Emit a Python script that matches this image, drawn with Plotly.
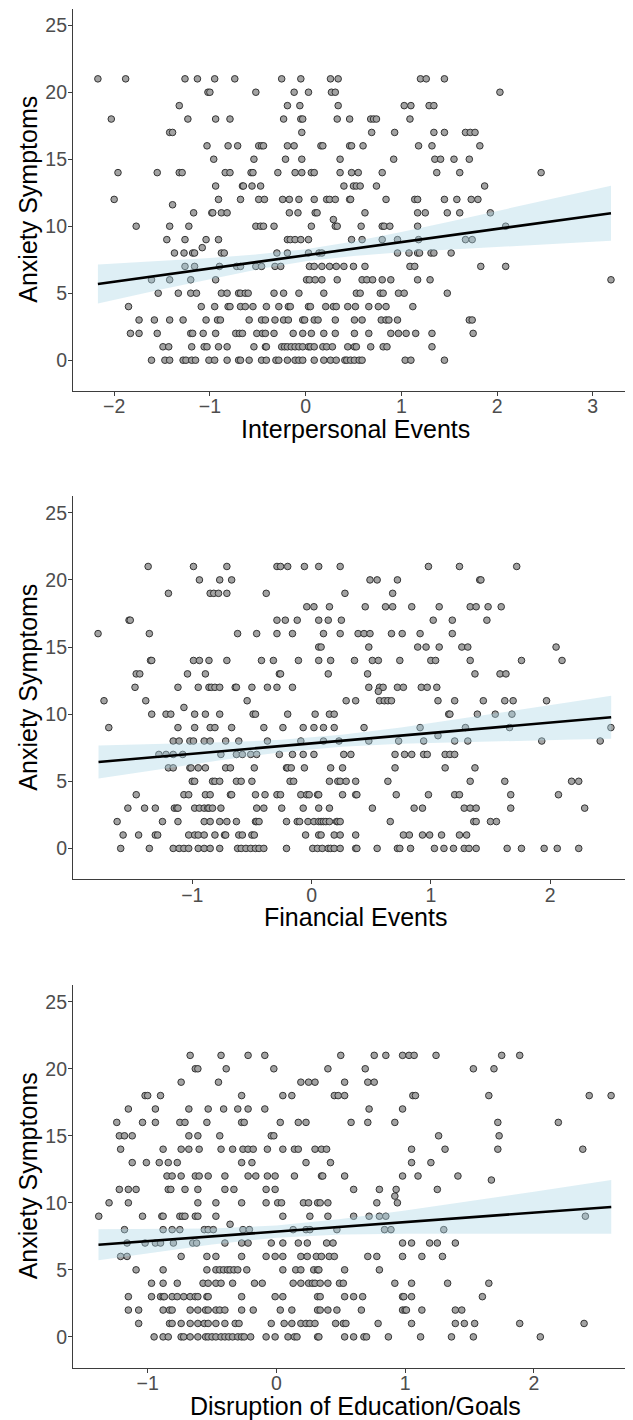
import numpy as np
import plotly.graph_objects as go

# ---------------- data ----------------
# Panel 1: Interpersonal Events -- anxiety levels and x positions of points in each level
interp_levels = [21, 20, 19, 18, 17, 16, 15, 14, 13, 12, 11.6, 11, 10.5, 10, 9, 8.4, 8, 7, 6, 5, 4, 3, 2, 1, 0]
interp_x = [
    [-2.17, -1.88, -1.26, -1.13, -0.95, -0.74, -0.25, -0.05, 0.26, 0.34, 1.20, 1.26, 1.45],
    [-1.02, -1.00, -0.52, -0.12, 0.03, 0.27, 0.31, 2.03],
    [-1.32, -0.19, -0.06, 0.34, 1.03, 1.10, 1.29, 1.34],
    [-2.03, -1.23, -0.94, -0.79, -0.23, -0.05, -0.03, 0.33, 0.46, 0.68, 0.71, 0.74, 1.09],
    [-1.42, -1.39, -0.04, 0.69, 0.93, 1.34, 1.45, 1.67, 1.72, 1.77],
    [-1.03, -0.81, -0.71, -0.49, -0.46, -0.44, -0.19, -0.12, 0.16, 0.18, 0.46, 0.48, 0.60, 1.18, 1.32, 1.82],
    [-0.96, -0.54, -0.21, -0.04, 0.36, 0.92, 1.35, 1.41, 1.55, 1.71],
    [-1.96, -1.55, -1.32, -1.29, -0.84, -0.79, -0.57, -0.55, -0.29, -0.11, -0.04, 0.06, 0.09, 0.36, 0.48, 0.55, 0.80, 1.37, 1.61, 2.46],
    [-0.94, -0.66, -0.65, -0.56, -0.47, 0.40, 0.50, 0.53, 0.57, 0.74, 1.87],
    [-2.00, -0.91, -0.68, -0.49, -0.43, -0.24, -0.17, -0.07, 0.09, 0.22, 0.25, 0.31, 0.46, 0.47, 0.84, 1.14, 1.17, 1.45, 1.58, 1.73, 1.80],
    [-1.39],
    [-1.17, -0.98, -0.97, -0.88, -0.82, -0.17, -0.08, 0.10, 0.12, 0.62, 1.17, 1.25, 1.48, 1.61, 1.93],
    [0.29],
    [-1.77, -1.42, -1.22, -0.52, -0.47, -0.44, -0.33, 0.06, 0.31, 0.33, 0.58, 0.80, 0.82, 0.88, 1.17, 2.09],
    [-1.45, -1.26, -1.04, -0.91, -0.19, -0.16, -0.11, -0.05, 0.03, 0.48, 0.59, 0.80, 0.96, 1.18, 1.67, 1.74],
    [-1.08],
    [-1.37, -1.27, -1.18, -1.16, -0.88, -0.85, -0.30, -0.19, 0.03, 0.14, 0.17, 0.96, 1.08, 1.17, 1.19, 1.31, 1.34, 1.52],
    [-1.26, -1.16, -0.90, -0.72, -0.68, -0.52, -0.46, -0.32, -0.26, 0.04, 0.09, 0.17, 0.25, 0.32, 0.40, 0.50, 0.62, 1.09, 1.14, 1.83, 2.09],
    [-1.61, -1.42, -1.20, -0.94, 0.01, 0.04, 0.10, 0.17, 0.33, 0.59, 0.64, 0.70, 0.80, 0.89, 1.17, 1.30, 3.19],
    [-1.54, -1.33, -1.20, -1.14, -0.88, -0.82, -0.70, -0.68, -0.63, -0.60, -0.33, -0.23, -0.07, 0.19, 0.53, 0.57, 0.78, 0.81, 0.97, 1.03, 1.48],
    [-1.85, -1.09, -0.95, -0.81, -0.79, -0.68, -0.63, -0.55, -0.41, -0.28, -0.18, -0.16, 0.03, 0.05, 0.21, 0.29, 0.32, 0.44, 0.52, 0.66, 0.76, 0.84, 1.12],
    [-1.74, -1.58, -1.42, -1.28, -1.04, -0.92, -0.89, -0.59, -0.46, -0.42, -0.32, -0.23, -0.18, -0.03, -0.01, 0.09, 0.13, 0.31, 0.51, 0.59, 0.79, 0.84, 0.87, 0.96, 1.71, 1.74],
    [-1.83, -1.74, -1.55, -1.20, -1.18, -1.07, -0.94, -0.73, -0.69, -0.66, -0.51, -0.45, -0.42, -0.33, -0.13, -0.03, 0.06, 0.19, 0.31, 0.51, 0.66, 0.89, 0.97, 1.05, 1.15, 1.32, 1.75],
    [-1.49, -1.43, -1.19, -1.06, -1.03, -0.91, -0.82, -0.54, -0.42, -0.41, -0.25, -0.22, -0.19, -0.15, -0.11, -0.07, -0.03, 0.03, 0.05, 0.09, 0.18, 0.22, 0.28, 0.44, 0.51, 0.53, 0.68, 0.81, 0.85, 1.32],
    [-1.61, -1.47, -1.42, -1.28, -1.25, -1.19, -1.15, -1.01, -0.95, -0.82, -0.70, -0.68, -0.59, -0.46, -0.41, -0.31, -0.28, -0.19, -0.11, -0.07, -0.03, 0.09, 0.19, 0.26, 0.32, 0.41, 0.43, 0.47, 0.51, 0.56, 0.59, 1.04, 1.10, 1.45],
]
# fitted line (ends) and 95% band
interp_fit_x = [-2.17, 3.19]
interp_fit_y = [5.69, 10.97]
interp_band_x = [-2.17, -1.5, -1.0, -0.5, 0.0, 0.5, 1.0, 1.5, 2.0, 2.5, 3.19]
interp_band_lo = [4.23, 5.29, 6.05, 6.78, 7.38, 7.78, 8.05, 8.27, 8.47, 8.66, 8.92]
interp_band_hi = [7.15, 7.42, 7.63, 7.90, 8.28, 8.86, 9.57, 10.34, 11.12, 11.92, 13.02]

# Panel 2: Financial Events
fin_levels = [21, 20, 19, 18, 17, 16, 15, 14, 13, 12, 11.7, 11, 10.5, 10, 9, 8.4, 8, 7, 6, 5, 4, 3, 2, 1, 0]
fin_x = [
    [-1.37, -0.99, -0.71, -0.29, -0.26, -0.20, -0.06, 0.06, 0.24, 0.98, 1.24, 1.72],
    [-0.94, -0.77, -0.67, 0.49, 0.55, 0.72, 1.41, 1.42],
    [-1.20, -0.85, -0.82, -0.78, -0.71, -0.38, 0.28, 0.68],
    [-0.04, 0.02, 0.15, 0.45, 0.62, 0.68, 0.84, 1.07, 1.33, 1.38, 1.48, 1.59],
    [-1.53, -1.52, -0.29, -0.22, -0.12, 0.06, 0.14, 0.25, 1.02, 1.18, 1.47],
    [-1.79, -1.36, -0.62, -0.46, -0.29, -0.16, 0.10, 0.24, 0.39, 0.44, 0.49, 0.67, 0.76, 0.91, 1.18],
    [0.06, 0.08, 0.48, 0.89, 0.96, 1.07, 1.26, 1.31, 2.05],
    [-1.35, -1.34, -0.99, -0.94, -0.86, -0.71, -0.42, -0.32, -0.11, 0.06, 0.16, 0.36, 0.51, 0.56, 0.74, 1.00, 1.04, 1.33, 1.76, 2.10],
    [-1.47, -1.44, -1.04, -0.89, -0.27, -0.26, 0.14, 0.47, 1.37, 1.58, 1.63],
    [-1.48, -1.12, -0.95, -0.86, -0.84, -0.81, -0.77, -0.64, -0.63, -0.50, -0.37, -0.29, -0.16, 0.48, 0.57, 0.60, 0.72, 0.77, 0.92, 0.97, 1.05],
    [0.56],
    [-1.74, -1.39, -0.54, 0.29, 0.37, 0.57, 0.61, 0.64, 0.67, 1.06, 1.20, 1.44, 1.62, 1.69, 1.97],
    [-1.07],
    [-1.34, -1.22, -1.18, -0.98, -0.89, -0.77, -0.49, -0.47, -0.20, 0.03, 0.15, 0.19, 1.15, 1.16, 1.39, 1.54, 1.68],
    [-1.70, -1.12, -0.98, -0.85, -0.81, -0.67, -0.40, -0.24, -0.07, 0.02, 0.10, 0.19, 0.44, 0.91, 1.29, 1.66, 2.51],
    [1.06],
    [-1.16, -1.11, -1.02, -0.99, -0.90, -0.85, -0.72, -0.61, -0.37, -0.09, 0.10, 0.23, 0.48, 0.73, 0.94, 1.20, 1.31, 1.93, 2.42],
    [-1.28, -1.22, -1.16, -1.08, -0.76, -0.63, -0.58, -0.51, -0.46, -0.27, -0.16, -0.07, 0.02, 0.27, 0.33, 0.70, 0.78, 0.84, 0.94, 0.97, 1.12, 1.16, 1.20],
    [-1.20, -1.16, -1.02, -1.01, -0.95, -0.89, -0.72, -0.68, -0.48, -0.21, -0.20, -0.17, -0.06, 0.16, 0.26, 0.70, 1.12, 1.37],
    [-1.00, -0.98, -0.83, -0.81, -0.77, -0.63, -0.59, -0.50, -0.18, -0.15, 0.15, 0.22, 0.24, 0.29, 0.37, 0.64, 1.33, 1.62, 2.18, 2.24],
    [-1.47, -1.07, -1.03, -0.89, -0.85, -0.68, -0.67, -0.47, -0.39, -0.29, -0.26, -0.09, -0.04, -0.02, 0.05, 0.06, 0.26, 0.37, 0.38, 0.71, 0.98, 1.20, 1.24, 1.67, 2.07],
    [-1.54, -1.40, -1.31, -1.15, -1.13, -1.12, -0.98, -0.94, -0.90, -0.87, -0.86, -0.83, -0.76, -0.46, -0.40, -0.25, -0.07, 0.06, 0.15, 0.51, 0.86, 0.93, 1.28, 1.33, 1.38, 1.67, 2.29],
    [-1.63, -1.25, -1.12, -0.90, -0.85, -0.77, -0.71, -0.63, -0.47, -0.46, -0.44, -0.21, -0.12, -0.10, -0.03, 0.02, 0.06, 0.08, 0.10, 0.12, 0.15, 0.21, 0.22, 0.24, 0.66, 1.36, 1.38, 1.50, 1.55],
    [-1.58, -1.45, -1.31, -1.29, -1.03, -0.98, -0.95, -0.90, -0.81, -0.73, -0.72, -0.61, -0.58, -0.50, -0.48, -0.05, 0.06, 0.08, 0.19, 0.24, 0.37, 0.77, 0.82, 0.93, 0.99, 1.09, 1.24, 1.30],
    [-1.60, -1.36, -1.16, -1.11, -1.07, -1.03, -0.95, -0.90, -0.85, -0.77, -0.62, -0.59, -0.55, -0.51, -0.47, -0.44, -0.40, -0.21, 0.01, 0.05, 0.09, 0.14, 0.16, 0.19, 0.24, 0.37, 0.38, 0.55, 0.72, 0.74, 0.83, 1.03, 1.11, 1.19, 1.28, 1.32, 1.38, 1.64, 1.76, 1.95, 2.06, 2.24],
]
fin_fit_x = [-1.786, 2.512]
fin_fit_y = [6.44, 9.77]
fin_band_x = [-1.786, -1.25, -0.75, -0.25, 0.25, 0.75, 1.25, 1.75, 2.2, 2.512]
fin_band_lo = [5.21, 5.93, 6.58, 7.17, 7.58, 7.80, 7.93, 8.03, 8.11, 8.17]
fin_band_hi = [7.67, 7.78, 7.90, 8.09, 8.46, 9.01, 9.66, 10.33, 10.94, 11.37]

# Panel 3: Disruption of Education/Goals
edu_levels = [21, 20, 19, 18, 17, 16, 15, 14, 13, 12, 11.7, 11, 10.5, 10, 9, 8.4, 8, 7, 6, 5, 4, 3, 2, 1, 0]
edu_x = [
    [-0.67, -0.43, -0.22, -0.09, 0.50, 0.76, 0.85, 0.98, 1.03, 1.07, 1.24, 1.75, 1.89],
    [-0.63, -0.61, -0.39, -0.02, 0.40, 0.69, 1.53, 1.69],
    [-0.74, -0.45, 0.19, 0.25, 0.30, 0.53, 0.71, 0.76],
    [-1.02, -1.00, -0.90, -0.27, 0.05, 0.12, 0.45, 0.48, 0.53, 1.06, 1.08, 1.65, 2.43, 2.60],
    [-1.15, -0.94, -0.68, -0.53, -0.41, -0.30, -0.22, -0.09, 0.72, 0.98],
    [-1.24, -1.04, -0.94, -0.75, -0.71, -0.54, -0.27, -0.25, 0.03, 0.17, 0.23, 0.58, 0.71, 0.92, 1.72, 2.19],
    [-1.22, -1.18, -1.12, -0.68, -0.61, -0.44, -0.04, -0.02, 1.26, 1.73],
    [-1.21, -0.88, -0.74, -0.68, -0.60, -0.43, -0.34, -0.26, -0.22, -0.18, -0.07, 0.05, 0.14, 0.17, 0.30, 0.35, 0.39, 1.05, 1.31, 1.72, 2.38],
    [-1.12, -1.01, -0.91, -0.84, -0.77, -0.27, -0.19, 0.23, 0.42, 1.05, 1.20],
    [-0.85, -0.81, -0.74, -0.63, -0.60, -0.53, -0.40, -0.22, -0.16, -0.07, -0.01, 0.14, 0.35, 0.36, 0.53, 0.98, 1.10, 1.41],
    [1.67],
    [-1.22, -1.15, -1.09, -0.84, -0.82, -0.71, -0.61, -0.40, -0.33, -0.08, -0.01, 0.60, 0.80, 0.93, 1.25],
    [0.92],
    [-1.30, -1.15, -0.61, -0.47, -0.27, -0.08, 0.01, 0.04, 0.21, 0.25, 0.32, 0.34, 0.40, 0.78, 0.94],
    [-1.38, -1.04, -0.89, -0.88, -0.75, -0.73, -0.71, -0.63, -0.61, -0.47, 0.05, 0.26, 0.40, 0.60, 0.72, 0.80, 0.85, 2.40],
    [-0.36],
    [-1.18, -0.88, -0.81, -0.75, -0.56, -0.53, -0.49, -0.26, -0.21, 0.13, 0.23, 0.26, 0.47, 0.84, 0.89, 1.30],
    [-1.16, -1.02, -0.94, -0.90, -0.80, -0.65, -0.62, -0.40, -0.27, -0.22, -0.04, 0.05, 0.17, 0.24, 0.39, 0.44, 0.98, 1.05, 1.19, 1.25, 1.39],
    [-1.21, -1.16, -0.74, -0.54, -0.47, -0.27, -0.08, -0.01, 0.05, 0.19, 0.24, 0.31, 0.35, 0.41, 0.45, 0.71, 0.78, 0.98, 1.13, 1.29],
    [-1.09, -0.88, -0.54, -0.47, -0.44, -0.41, -0.38, -0.36, -0.33, -0.30, -0.23, 0.05, 0.15, 0.19, 0.29, 0.32, 0.33, 0.53, 0.80],
    [-0.97, -0.88, -0.77, -0.57, -0.53, -0.47, -0.43, -0.34, -0.17, -0.11, 0.13, 0.19, 0.25, 0.28, 0.30, 0.34, 0.40, 0.49, 0.52, 0.92, 1.05, 1.33, 1.65],
    [-1.15, -0.97, -0.90, -0.88, -0.87, -0.81, -0.77, -0.72, -0.67, -0.63, -0.61, -0.54, -0.53, -0.27, -0.01, 0.05, 0.32, 0.34, 0.53, 0.60, 0.67, 0.98, 0.99, 1.05, 1.60],
    [-1.15, -1.07, -0.88, -0.83, -0.81, -0.67, -0.61, -0.55, -0.53, -0.47, -0.44, -0.40, -0.27, -0.18, 0.03, 0.12, 0.32, 0.34, 0.40, 0.47, 0.66, 0.98, 1.00, 1.01, 1.13, 1.39, 1.44],
    [-1.07, -0.83, -0.81, -0.74, -0.67, -0.61, -0.56, -0.53, -0.47, -0.40, -0.32, -0.29, -0.04, 0.06, 0.12, 0.19, 0.23, 0.26, 0.30, 0.46, 0.52, 0.54, 0.79, 1.05, 1.39, 1.46, 1.54, 1.89, 2.39],
    [-0.95, -0.88, -0.84, -0.74, -0.72, -0.67, -0.61, -0.55, -0.53, -0.50, -0.47, -0.43, -0.40, -0.37, -0.34, -0.30, -0.27, -0.25, -0.20, -0.08, -0.01, 0.09, 0.14, 0.16, 0.32, 0.33, 0.53, 0.60, 0.68, 0.70, 0.87, 1.12, 1.36, 1.53, 2.05],
]
edu_fit_x = [-1.382, 2.601]
edu_fit_y = [6.874, 9.693]
edu_band_x = [-1.382, -1.0, -0.5, 0.0, 0.5, 1.0, 1.5, 2.0, 2.601]
edu_band_lo = [5.72, 6.25, 6.90, 7.40, 7.63, 7.69, 7.71, 7.70, 7.69]
edu_band_hi = [8.02, 8.04, 8.09, 8.30, 8.79, 9.43, 10.12, 10.83, 11.70]

x_titles = ["Interpersonal Events", "Financial Events", "Disruption of Education/Goals"]
y_title = "Anxiety Symptoms"
y_ticks = [0, 5, 10, 15, 20, 25]
x_ticks = [[-2, -1, 0, 1, 2, 3], [-1, 0, 1, 2], [-1, 0, 1, 2]]

# ---------------- layout constants ----------------
OFF = 8  # the page shows the figure 8px in from the top-left corner
W, H = 633 - OFF, 1420 - OFF
FONT = "Liberation Sans, Arial, Helvetica, sans-serif"
x_ranges = [[-2.43, 3.42], [-2.0, 2.695], [-1.58, 2.77]]
y_range = [-2.3, 26.25]
x_dom = [(73 - OFF) / W, 1.0]
# (top px, bottom px) of each panel's plot area, in page pixels
panels_px = [(8.5, 391.0), (496.0, 879.3), (985.0, 1367.7)]
xtitle_px = [428.5, 916.5, 1405.5]
ytitle_x_px = 28.0
xtitle_x_px = 355.5


def flatten(levels, rows):
    xs, ys = [], []
    for lv, row in zip(levels, rows):
        for v in row:
            xs.append(v)
            ys.append(lv)
    return xs, ys


fig = go.Figure()
datasets = [
    (interp_levels, interp_x, interp_fit_x, interp_fit_y, interp_band_x, interp_band_lo, interp_band_hi),
    (fin_levels, fin_x, fin_fit_x, fin_fit_y, fin_band_x, fin_band_lo, fin_band_hi),
    (edu_levels, edu_x, edu_fit_x, edu_fit_y, edu_band_x, edu_band_lo, edu_band_hi),
]

for i, (lv, rows, fx, fy, bx, blo, bhi) in enumerate(datasets):
    k = "" if i == 0 else str(i + 1)
    xa, ya = "x" + k, "y" + k
    x, y = flatten(lv, rows)
    fig.add_trace(go.Scatter(
        x=x, y=y, mode="markers", xaxis=xa, yaxis=ya, showlegend=False,
        marker=dict(size=6.6, color="#a3a3a3", line=dict(color="#333333", width=1)),
        hoverinfo="skip"))
    fig.add_trace(go.Scatter(
        x=bx + bx[::-1], y=bhi + blo[::-1],
        mode="lines", fill="toself", fillcolor="rgba(173,216,230,0.4)",
        line=dict(width=0),
        xaxis=xa, yaxis=ya, showlegend=False, hoverinfo="skip"))
    fig.add_trace(go.Scatter(
        x=fx, y=fy, mode="lines", line=dict(color="black", width=2.6),
        xaxis=xa, yaxis=ya, showlegend=False, hoverinfo="skip"))

    top, bot = panels_px[i]
    dom = [1 - (bot - OFF) / H, 1 - (top - OFF) / H]
    axis_common = dict(
        showline=True, linecolor="#3d3d3d", linewidth=1.1, showgrid=False, zeroline=False,
        ticks="outside", ticklen=4, tickwidth=1.1, tickcolor="#3d3d3d",
        tickfont=dict(family=FONT, size=19.5, color="#4d4d4d"), mirror=False)
    fig.update_layout(**{
        "xaxis" + k: dict(domain=x_dom, range=x_ranges[i], tickvals=x_ticks[i],
                          anchor=ya, ticklabelstandoff=-6, **axis_common),
        "yaxis" + k: dict(domain=dom, range=y_range, tickvals=y_ticks,
                          anchor=xa, ticklabelstandoff=-3, **axis_common),
    })
    fig.add_annotation(text=x_titles[i], xref="paper", yref="paper",
                       x=(xtitle_x_px - OFF) / W, y=1 - (xtitle_px[i] - OFF) / H,
                       xanchor="center", yanchor="middle", showarrow=False,
                       font=dict(family=FONT, size=25, color="black"))
    fig.add_annotation(text=y_title, xref="paper", yref="paper",
                       x=(ytitle_x_px - OFF) / W, y=1 - ((top + bot) / 2 - OFF) / H,
                       textangle=-90, xanchor="center", yanchor="middle", showarrow=False,
                       font=dict(family=FONT, size=25, color="black"))

fig.update_layout(width=W, height=H, margin=dict(l=0, r=0, t=0, b=0),
                  plot_bgcolor="white", paper_bgcolor="white")

fig.write_html("out.html")
